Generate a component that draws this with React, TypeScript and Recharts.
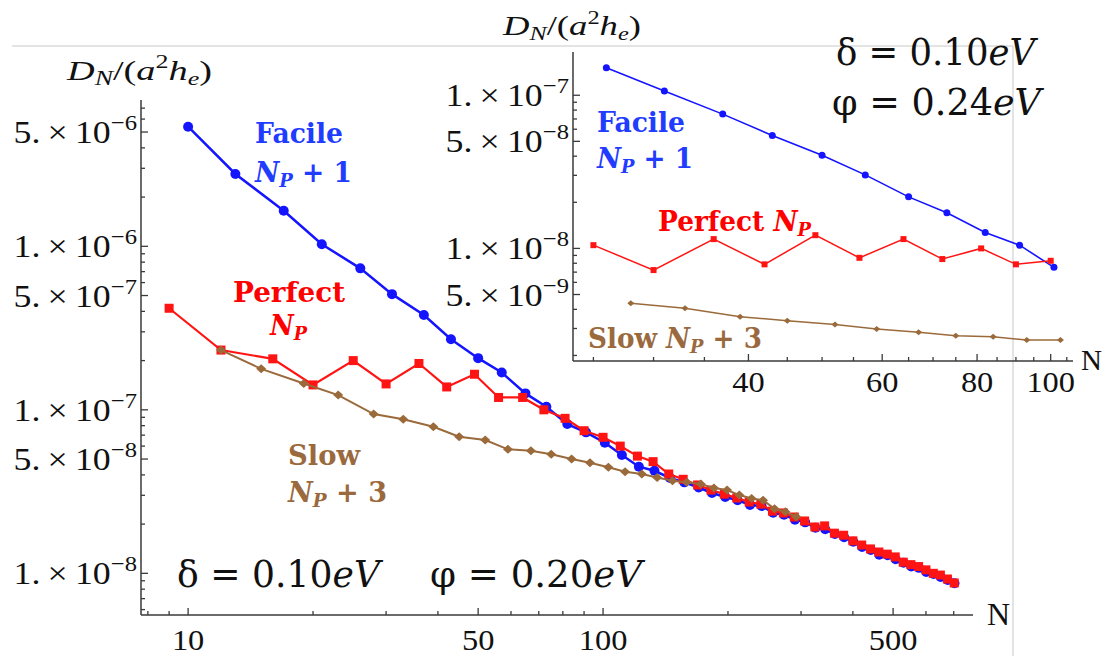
import React from 'react';
import { ScatterChart, Scatter, XAxis, YAxis } from 'recharts';

const BLUE = '#1414ff';
const RED = '#ff1414';
const BROWN = '#9b6a3b';
const BLUE_TXT = '#1f3cff';
const RED_TXT = '#ff0000';
const BROWN_TXT = '#9a6a3e';
const AXIS = '#3a3a3a';

// main panel: delta = 0.10 eV, phi = 0.20 eV
const perfectN = [9, 12, 16, 20, 25, 30, 36, 42, 49, 56, 64, 72, 81, 90, 100, 110, 121, 132, 144, 156, 169, 182, 196, 210, 225, 240, 256, 272, 289, 306, 324, 342, 361, 380, 400, 420, 441, 462, 484, 506, 529, 552, 576, 600, 625, 650, 676, 702];
const perfectD = [4.18e-7, 2.32e-7, 2.05e-7, 1.42e-7, 2.0e-7, 1.44e-7, 1.92e-7, 1.38e-7, 1.65e-7, 1.19e-7, 1.19e-7, 1.0e-7, 8.87e-8, 7.45e-8, 6.79e-8, 6.0e-8, 5.21e-8, 4.82e-8, 4.05e-8, 3.76e-8, 3.47e-8, 3.23e-8, 3.05e-8, 2.89e-8, 2.73e-8, 2.65e-8, 2.4e-8, 2.34e-8, 2.21e-8, 2.09e-8, 1.92e-8, 1.95e-8, 1.76e-8, 1.71e-8, 1.58e-8, 1.49e-8, 1.41e-8, 1.35e-8, 1.31e-8, 1.26e-8, 1.17e-8, 1.13e-8, 1.1e-8, 1.05e-8, 1.0e-8, 9.76e-9, 9.23e-9, 8.73e-9];

const facileN = [10, 13, 17, 21, 26, 31, 37, 43, 50, 57, 65, 73, 82, 91, 101, 111, 122, 133, 145, 157, 170, 183, 197, 211, 226, 241, 257, 273, 290, 307, 325, 343, 362, 381, 401, 421, 442, 463, 485, 507, 530, 553, 577, 601, 626, 651, 677, 703];
const facileD = [5.39e-6, 2.77e-6, 1.65e-6, 1.03e-6, 7.33e-7, 5.1e-7, 3.8e-7, 2.7e-7, 2.07e-7, 1.69e-7, 1.26e-7, 1.045e-7, 8.18e-8, 7.28e-8, 6.29e-8, 5.29e-8, 4.49e-8, 4.24e-8, 3.83e-8, 3.6e-8, 3.35e-8, 3.1e-8, 2.93e-8, 2.8e-8, 2.62e-8, 2.58e-8, 2.35e-8, 2.28e-8, 2.13e-8, 2.05e-8, 1.9e-8, 1.86e-8, 1.74e-8, 1.66e-8, 1.56e-8, 1.45e-8, 1.39e-8, 1.3e-8, 1.29e-8, 1.22e-8, 1.16e-8, 1.1e-8, 1.08e-8, 1.02e-8, 9.9e-9, 9.5e-9, 9.1e-9, 8.7e-9];

const slowN = [12, 15, 19, 23, 28, 33, 39, 45, 52, 59, 67, 75, 84, 93, 103, 113, 124, 135, 147, 159, 172, 185, 199, 213, 228, 243, 259, 275, 292];
const slowD = [2.32e-7, 1.78e-7, 1.45e-7, 1.23e-7, 9.42e-8, 8.75e-8, 7.88e-8, 6.85e-8, 6.53e-8, 5.73e-8, 5.62e-8, 5.35e-8, 5.0e-8, 4.75e-8, 4.45e-8, 4.18e-8, 4.05e-8, 3.86e-8, 3.68e-8, 3.6e-8, 3.52e-8, 3.32e-8, 3.23e-8, 3.01e-8, 2.87e-8, 2.8e-8, 2.48e-8, 2.38e-8, 2.22e-8];

// inset: delta = 0.10 eV, phi = 0.24 eV
const insetPerfectN = [25, 30, 36, 42, 49, 56, 64, 72, 81, 90, 100];
const insetPerfectD = [1.05e-8, 7.22e-9, 1.15e-8, 7.87e-9, 1.22e-8, 8.68e-9, 1.15e-8, 8.52e-9, 1.0e-8, 7.87e-9, 8.3e-9];
const insetFacileN = [26, 31, 37, 43, 50, 57, 65, 73, 82, 91, 101];
const insetFacileD = [1.51e-7, 1.067e-7, 7.53e-8, 5.46e-8, 4.06e-8, 3.02e-8, 2.17e-8, 1.71e-8, 1.27e-8, 1.05e-8, 7.52e-9];
const insetSlowN = [28, 33, 39, 45, 52, 59, 67, 75, 84, 93, 103];
const insetSlowD = [4.38e-9, 4.06e-9, 3.58e-9, 3.37e-9, 3.19e-9, 2.98e-9, 2.83e-9, 2.69e-9, 2.65e-9, 2.52e-9, 2.52e-9];

// ticks
const mainXMajor = [10, 50, 100, 500];
const mainXMinor = [8, 9, 20, 30, 40, 60, 70, 80, 90, 200, 300, 400, 600, 700];
const mainYMajor = [1e-8, 5e-8, 1e-7, 5e-7, 1e-6, 5e-6];
const mainYMinor = [6e-9, 7e-9, 8e-9, 9e-9, 2e-8, 3e-8, 4e-8, 6e-8, 7e-8, 8e-8, 9e-8, 2e-7, 3e-7, 4e-7, 6e-7, 7e-7, 8e-7, 9e-7, 2e-6, 3e-6, 4e-6, 6e-6, 7e-6];
const insetXMajor = [40, 60, 80, 100];
const insetXMinor = [25, 30, 35, 45, 50, 55, 65, 70, 75, 85, 90, 95, 105];
const insetYMajor = [5e-9, 1e-8, 5e-8, 1e-7];
const insetYMinor = [2e-9, 3e-9, 4e-9, 6e-9, 7e-9, 8e-9, 9e-9, 2e-8, 3e-8, 4e-8, 6e-8, 7e-8, 8e-8, 9e-8];

const zip = (ns: number[], vs: number[]) => ns.map((n, i) => ({ n, v: vs[i] }));

const SERIF = '"Liberation Serif", "Times New Roman", serif';
const MATH = '"DejaVu Serif", serif';

function YTick(props: any) {
  const { x, y, payload, majors } = props;
  const v = payload.value;
  const major = majors.includes(v);
  const e = Math.floor(Math.log10(v) + 1e-9);
  const m = Math.round(v / Math.pow(10, e));
  return (
    <g>
      <line x1={x} y1={y} x2={x + (major ? 7 : 4)} y2={y} stroke={AXIS} strokeWidth={1.3} />
      {major && (
        <text
          transform={`translate(${x - 4},${y + 11}) scale(1.12,1)`}
          textAnchor="end"
          fontFamily={SERIF}
          fontSize={32}
          fill="#111"
        >
          {`${m}.\u2009\u00d7\u200910`}
          <tspan fontSize={22} dy={-13}>{`\u2212${-e}`}</tspan>
        </text>
      )}
    </g>
  );
}

function XTick(props: any) {
  const { x, y, payload, majors, off } = props;
  const v = payload.value;
  const major = majors.includes(v);
  return (
    <g>
      <line x1={x} y1={y} x2={x} y2={y - (major ? 7 : 4)} stroke={AXIS} strokeWidth={1.3} />
      {major && (
        <text
          transform={`translate(${x},${y + off}) scale(1.08,1)`}
          textAnchor="middle"
          fontFamily={SERIF}
          fontSize={30}
          fill="#111"
        >
          {v}
        </text>
      )}
    </g>
  );
}

const circle = (r: number, c: string) => (p: any) => <circle cx={p.cx} cy={p.cy} r={r} fill={c} />;
const square = (s: number, c: string) => (p: any) => (
  <rect x={p.cx - s / 2} y={p.cy - s / 2} width={s} height={s} fill={c} />
);
const diamond = (w: number, h: number, c: string) => (p: any) => (
  <polygon
    points={`${p.cx - w / 2},${p.cy} ${p.cx},${p.cy - h / 2} ${p.cx + w / 2},${p.cy} ${p.cx},${p.cy + h / 2}`}
    fill={c}
  />
);

export default function App() {
  return (
    <div style={{ position: 'absolute', left: 0, top: 0, width: 1107, height: 656, background: '#fff' }}>
      <svg width={1107} height={656} style={{ position: 'absolute', left: 0, top: 0 }}>
        <line x1={12} y1={46} x2={1013} y2={46} stroke="#c8c8c8" strokeWidth={1} />
        <line x1={1013} y1={46} x2={1013} y2={656} stroke="#c8c8c8" strokeWidth={1} />
      </svg>

      {/* main panel */}
      <div style={{ position: 'absolute', left: 0, top: 0 }}>
        <ScatterChart width={1107} height={656} margin={{ top: 100, right: 134, bottom: 0, left: 0 }}>
          <XAxis
            type="number"
            dataKey="n"
            scale="log"
            domain={[7.7, 779]}
            allowDataOverflow
            ticks={[...mainXMinor, ...mainXMajor]}
            interval={0}
            height={41}
            tickSize={0}
            tickMargin={0}
            axisLine={{ stroke: AXIS, strokeWidth: 1.5 }}
            tickLine={false}
            tick={(p: any) => <XTick {...p} majors={mainXMajor} off={35} />}
          />
          <YAxis
            type="number"
            dataKey="v"
            scale="log"
            domain={[5.56e-9, 7.85e-6]}
            allowDataOverflow
            ticks={[...mainYMinor, ...mainYMajor]}
            interval={0}
            width={141}
            tickSize={0}
            tickMargin={0}
            axisLine={{ stroke: AXIS, strokeWidth: 1.5 }}
            tickLine={false}
            tick={(p: any) => <YTick {...p} majors={mainYMajor} />}
          />
          <Scatter
            data={zip(facileN, facileD)}
            fill={BLUE}
            line={{ stroke: BLUE, strokeWidth: 2.5 }}
            lineType="joint"
            shape={circle(5, BLUE)}
            isAnimationActive={false}
          />
          <Scatter
            data={zip(perfectN, perfectD)}
            fill={RED}
            line={{ stroke: RED, strokeWidth: 2.2 }}
            lineType="joint"
            shape={square(9, RED)}
            isAnimationActive={false}
          />
          <Scatter
            data={zip(slowN, slowD)}
            fill={BROWN}
            line={{ stroke: BROWN, strokeWidth: 2 }}
            lineType="joint"
            shape={diamond(10, 9, BROWN)}
            isAnimationActive={false}
          />
        </ScatterChart>
      </div>

      {/* inset */}
      <div style={{ position: 'absolute', left: 440, top: 0 }}>
        <ScatterChart width={667} height={400} margin={{ top: 52, right: 34, bottom: 0, left: 0 }}>
          <XAxis
            type="number"
            dataKey="n"
            scale="log"
            domain={[23.5, 107]}
            allowDataOverflow
            ticks={[...insetXMinor, ...insetXMajor]}
            interval={0}
            height={39}
            tickSize={0}
            tickMargin={0}
            axisLine={{ stroke: AXIS, strokeWidth: 1.5 }}
            tickLine={false}
            tick={(p: any) => <XTick {...p} majors={insetXMajor} off={31} />}
          />
          <YAxis
            type="number"
            dataKey="v"
            scale="log"
            domain={[1.84e-9, 1.916e-7]}
            allowDataOverflow
            ticks={[...insetYMinor, ...insetYMajor]}
            interval={0}
            width={133}
            tickSize={0}
            tickMargin={0}
            axisLine={{ stroke: AXIS, strokeWidth: 1.5 }}
            tickLine={false}
            tick={(p: any) => <YTick {...p} majors={insetYMajor} />}
          />
          <Scatter
            data={zip(insetFacileN, insetFacileD)}
            fill={BLUE}
            line={{ stroke: BLUE, strokeWidth: 1.6 }}
            lineType="joint"
            shape={circle(3.5, BLUE)}
            isAnimationActive={false}
          />
          <Scatter
            data={zip(insetPerfectN, insetPerfectD)}
            fill={RED}
            line={{ stroke: RED, strokeWidth: 1.5 }}
            lineType="joint"
            shape={square(6, RED)}
            isAnimationActive={false}
          />
          <Scatter
            data={zip(insetSlowN, insetSlowD)}
            fill={BROWN}
            line={{ stroke: BROWN, strokeWidth: 1.5 }}
            lineType="joint"
            shape={diamond(7, 6, BROWN)}
            isAnimationActive={false}
          />
        </ScatterChart>
      </div>

      <svg width={1107} height={656} style={{ position: 'absolute', left: 0, top: 0, pointerEvents: 'none' }}>
        {/* axis titles */}
        <text x={67} y={80} fontFamily={SERIF} fontSize={28} fill="#111" textLength={145} lengthAdjust="spacingAndGlyphs">
          <tspan fontStyle="italic">D</tspan>
          <tspan fontStyle="italic" fontSize={20} dy={5}>N</tspan>
          <tspan dy={-5}>/(</tspan>
          <tspan fontStyle="italic">a</tspan>
          <tspan fontSize={19} dy={-12}>2</tspan>
          <tspan fontStyle="italic" dy={12}>h</tspan>
          <tspan fontStyle="italic" fontSize={19} dy={5}>e</tspan>
          <tspan dy={-5}>)</tspan>
        </text>
        <text x={503} y={35} fontFamily={SERIF} fontSize={27} fill="#111" textLength={138} lengthAdjust="spacingAndGlyphs">
          <tspan fontStyle="italic">D</tspan>
          <tspan fontStyle="italic" fontSize={19} dy={5}>N</tspan>
          <tspan dy={-5}>/(</tspan>
          <tspan fontStyle="italic">a</tspan>
          <tspan fontSize={18} dy={-11}>2</tspan>
          <tspan fontStyle="italic" dy={11}>h</tspan>
          <tspan fontStyle="italic" fontSize={18} dy={5}>e</tspan>
          <tspan dy={-5}>)</tspan>
        </text>
        <text x={987} y={625} fontFamily={SERIF} fontSize={32} fill="#111">N</text>
        <text x={1081} y={370} fontFamily={SERIF} fontSize={29} fill="#111">N</text>

        {/* main annotations */}
        <text x={255} y={143} fontFamily={MATH} fontWeight="bold" fontSize={28} fill={BLUE_TXT} textLength={88} lengthAdjust="spacingAndGlyphs">Facile</text>
        <text x={255} y={182} fontFamily={MATH} fontWeight="bold" fontSize={28} fill={BLUE_TXT} textLength={97} lengthAdjust="spacingAndGlyphs">
          <tspan fontStyle="italic">N</tspan>
          <tspan fontStyle="italic" fontSize={19} dy={5}>P</tspan>
          <tspan dy={-5}>{' + 1'}</tspan>
        </text>
        <text x={233} y={302} fontFamily={MATH} fontWeight="bold" fontSize={28} fill={RED_TXT} textLength={112} lengthAdjust="spacingAndGlyphs">Perfect</text>
        <text x={270} y={335} fontFamily={MATH} fontWeight="bold" fontSize={28} fill={RED_TXT} textLength={37} lengthAdjust="spacingAndGlyphs">
          <tspan fontStyle="italic">N</tspan>
          <tspan fontStyle="italic" fontSize={19} dy={5}>P</tspan>
        </text>
        <text x={288} y={465} fontFamily={MATH} fontWeight="bold" fontSize={28} fill={BROWN_TXT} textLength={72} lengthAdjust="spacingAndGlyphs">Slow</text>
        <text x={288} y={502} fontFamily={MATH} fontWeight="bold" fontSize={28} fill={BROWN_TXT} textLength={99} lengthAdjust="spacingAndGlyphs">
          <tspan fontStyle="italic">N</tspan>
          <tspan fontStyle="italic" fontSize={19} dy={5}>P</tspan>
          <tspan dy={-5}>{' + 3'}</tspan>
        </text>
        <text x={177} y={587} fontFamily={MATH} fontSize={37} fill="#111" textLength={203} lengthAdjust="spacingAndGlyphs">
          {'\u03b4 = 0.10'}<tspan fontStyle="italic">eV</tspan>
        </text>
        <text x={430} y={587} fontFamily={MATH} fontSize={37} fill="#111" textLength={212} lengthAdjust="spacingAndGlyphs">
          {'\u03c6 = 0.20'}<tspan fontStyle="italic">eV</tspan>
        </text>

        {/* inset annotations */}
        <text x={597} y={132} fontFamily={MATH} fontWeight="bold" fontSize={28} fill={BLUE_TXT} textLength={88} lengthAdjust="spacingAndGlyphs">Facile</text>
        <text x={597} y={168} fontFamily={MATH} fontWeight="bold" fontSize={28} fill={BLUE_TXT} textLength={96} lengthAdjust="spacingAndGlyphs">
          <tspan fontStyle="italic">N</tspan>
          <tspan fontStyle="italic" fontSize={19} dy={5}>P</tspan>
          <tspan dy={-5}>{' + 1'}</tspan>
        </text>
        <text x={658} y={231} fontFamily={MATH} fontWeight="bold" fontSize={28} fill={RED_TXT} textLength={153} lengthAdjust="spacingAndGlyphs">
          {'Perfect '}
          <tspan fontStyle="italic">N</tspan>
          <tspan fontStyle="italic" fontSize={19} dy={5}>P</tspan>
        </text>
        <text x={588} y={348} fontFamily={MATH} fontWeight="bold" fontSize={28} fill={BROWN_TXT} textLength={174} lengthAdjust="spacingAndGlyphs">
          {'Slow '}
          <tspan fontStyle="italic">N</tspan>
          <tspan fontStyle="italic" fontSize={19} dy={5}>P</tspan>
          <tspan dy={-5}>{' + 3'}</tspan>
        </text>
        <text x={836} y={65} fontFamily={MATH} fontSize={37} fill="#111" textLength={199} lengthAdjust="spacingAndGlyphs">
          {'\u03b4 = 0.10'}<tspan fontStyle="italic">eV</tspan>
        </text>
        <text x={832} y={115} fontFamily={MATH} fontSize={37} fill="#111" textLength={209} lengthAdjust="spacingAndGlyphs">
          {'\u03c6 = 0.24'}<tspan fontStyle="italic">eV</tspan>
        </text>
      </svg>
    </div>
  );
}
